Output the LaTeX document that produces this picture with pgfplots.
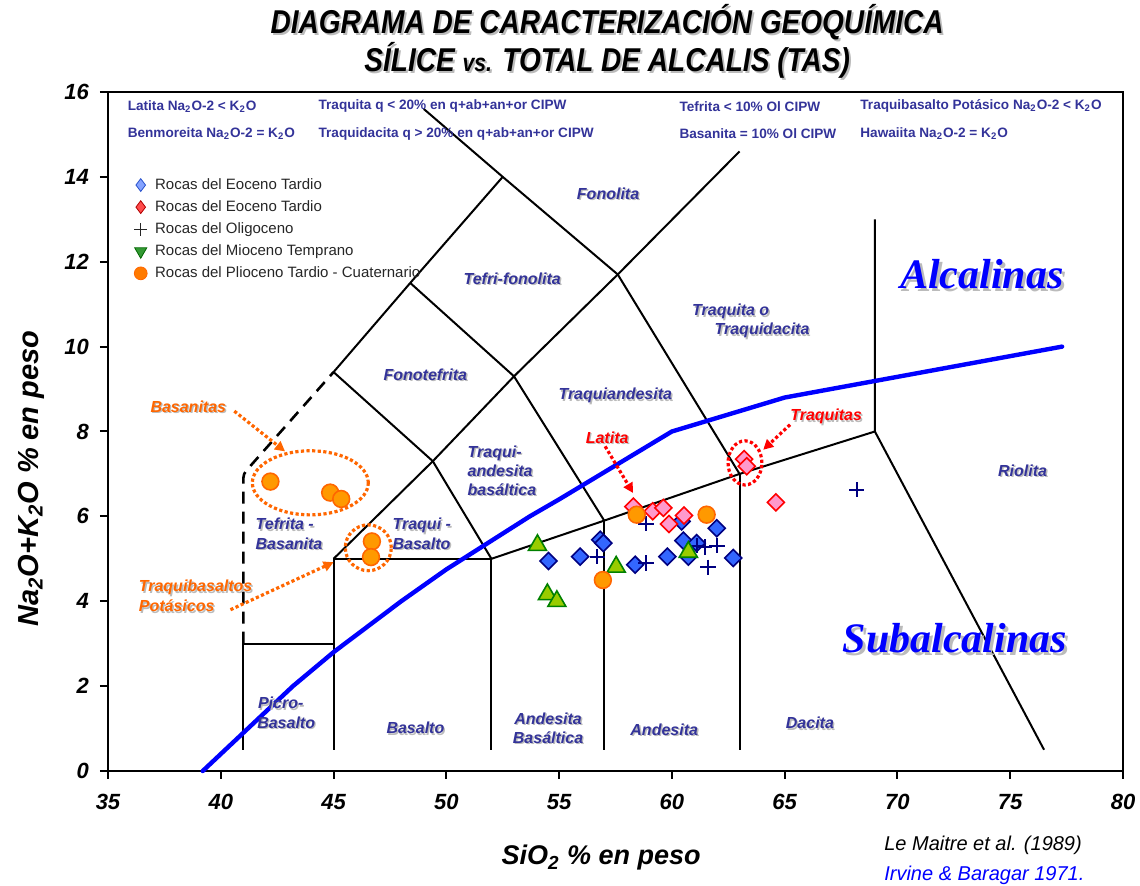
\documentclass[border=0pt]{standalone}
\usepackage{fontspec}
\setmainfont{Liberation Sans}
\newfontfamily\timesf{Liberation Serif}
\newfontfamily\titlef{Liberation Sans}[FakeStretch=0.85]
\usepackage{pgfplots}
\pgfplotsset{compat=1.18}
\usetikzlibrary{arrows.meta}
\definecolor{regblue}{HTML}{333399}
\definecolor{orng}{HTML}{FF6600}
\definecolor{orfill}{HTML}{FF9900}
\definecolor{pinkf}{HTML}{FF99CC}
\definecolor{bluef}{HTML}{3366FF}
\definecolor{navyc}{HTML}{000080}
\definecolor{greenf}{HTML}{99CC00}
\definecolor{greene}{HTML}{008000}
\definecolor{shad}{HTML}{BBBBBB}
\newcommand{\shtext}[4][0.7pt]{%
 \node[#2,text=shad,xshift=#1,yshift=-#1] at (axis cs:#3) {#4};
 \node[#2] at (axis cs:#3) {#4};}
\tikzset{
 reg/.style={font=\bfseries\itshape\fontsize{8}{9.6}\selectfont, text=regblue, inner sep=0pt},
 hdr/.style={font=\bfseries\fontsize{6.8}{8}\selectfont, text=regblue, inner sep=0pt, anchor=west},
 orl/.style={font=\bfseries\itshape\fontsize{8}{10}\selectfont, text=orng, inner sep=0pt},
 redl/.style={font=\bfseries\itshape\fontsize{8}{10}\selectfont, text=red, inner sep=0pt},
 dotl/.style={line width=1.6pt, dash pattern=on 1.6pt off 1.2pt},
}
\begin{document}
\begin{tikzpicture}
\path[use as bounding box] (-54pt,-57.5pt) rectangle (516pt,385.5pt);
\begin{axis}[at={(0,0)}, anchor=south west, scale only axis,
 width=507.5pt, height=339.5pt,
 xmin=35, xmax=80, ymin=0, ymax=16,
 xtick={35,40,...,80}, ytick={0,2,...,16},
 tick align=outside, tick pos=left, major tick length=4pt,
 axis line style={line width=1.2pt},
 every tick/.style={black, line width=1pt},
 ticklabel style={font=\bfseries\itshape\fontsize{11}{13}\selectfont},
 xticklabel style={yshift=-4pt},
 yticklabel style={xshift=-2pt},
 /pgf/number format/assume math mode=true,
 clip=false,
 legend image code/.code={\draw[mark repeat=2,mark phase=2,#1] plot coordinates {(0pt,0pt)(4.5pt,0pt)(9pt,0pt)};},
 legend style={at={(axis cs:36.15,14.05)}, anchor=north west, draw=none, fill=none,
   font=\fontsize{7.5}{9}\selectfont, text=black!85, inner sep=0pt, row sep=1.1pt,
   nodes={inner sep=1.5pt}, /tikz/every odd column/.append style={column sep=2.5pt}},
 legend cell align=left,
]
% TAS boundaries (Le Maitre et al. 1989)
\addplot[black, line width=1pt, forget plot] coordinates {(41,0.5) (41,3) (45,3)};
\addplot[black, line width=1pt, forget plot] coordinates {(45,0.5) (45,5) (52,5) (52,0.5)};
\addplot[black, line width=1pt, forget plot] coordinates {(52,5) (57,5.9) (63,7) (69,8) (69,13)};
\addplot[black, line width=1pt, forget plot] coordinates {(57,0.5) (57,5.9)};
\addplot[black, line width=1pt, forget plot] coordinates {(63,0.5) (63,7)};
\addplot[black, line width=1pt, forget plot] coordinates {(69,8) (76.5,0.5)};
\addplot[black, line width=1pt, forget plot] coordinates {(45,5) (49.4,7.3) (53,9.3) (57.6,11.7) (63,14.6)};
\addplot[black, line width=1pt, forget plot] coordinates {(45,9.4) (48.4,11.5) (52.5,14)};
\addplot[black, line width=1pt, forget plot] coordinates {(49,15.6) (52.5,14) (57.6,11.7) (63,7)};
\addplot[black, line width=1pt, forget plot] coordinates {(45,9.4) (49.4,7.3) (52,5)};
\addplot[black, line width=1pt, forget plot] coordinates {(53,9.3) (57,5.9)};
\addplot[black, line width=1pt, forget plot] coordinates {(48.4,11.5) (53,9.3)};
\addplot[black, line width=1.3pt, dash pattern=on 6pt off 4pt, rounded corners=2pt, forget plot] coordinates {(41,3) (41,7) (45,9.4)};
% Irvine & Baragar 1971
\addplot[blue, line width=2.2pt, line cap=round, forget plot] coordinates {(39.2,0) (40,0.4) (43.2,2) (45,2.8) (48,4) (50,4.75) (53.7,6) (55,6.4) (60,8) (65,8.8) (77.3,10)};

% data
\addplot[only marks, mark=square*, mark size=3pt, mark options={rotate=45, fill=bluef, draw=navyc, line width=0.8pt}, forget plot] coordinates {
(54.53,4.95) (55.93,5.05) (56.82,5.45) (56.96,5.37) (58.37,4.86) (59.8,5.05) (60.43,5.88) (60.51,5.43) (60.73,5.05) (61.1,5.37) (61.99,5.72) (62.72,5.02)};
\addplot[only marks, mark=square*, mark size=3pt, mark options={rotate=45, fill=pinkf, draw=red, line width=0.8pt}, forget plot] coordinates {
(58.29,6.23) (59.15,6.12) (59.62,6.20) (59.87,5.82) (60.54,6.02) (63.2,7.35) (63.32,7.18) (64.61,6.33)};
\addplot[only marks, mark=+, mark size=3.8pt, mark options={draw=navyc, line width=1pt}, forget plot] coordinates {
(56.7,5.05) (58.85,5.83) (58.85,4.90) (61.1,5.31) (61.45,5.28) (62.0,5.31) (61.6,4.80) (68.19,6.63)};
\addplot[only marks, mark=triangle*, mark size=5.2pt, mark options={fill=greenf, draw=greene, line width=0.8pt}, forget plot] coordinates {
(54.04,5.32) (57.53,4.81) (54.48,4.16) (54.9,4.0) (60.73,5.16)};
\addplot[only marks, mark=*, mark size=4.2pt, mark options={fill=orfill, draw=orng, line width=0.8pt}, forget plot] coordinates {
(58.44,6.04) (61.54,6.04) (56.94,4.50) (42.2,6.82) (44.85,6.56) (45.34,6.41) (46.70,5.41) (46.66,5.04)};

% legend
\addlegendimage{only marks, mark=diamond*, mark size=3.2pt, mark options={fill=bluef!60, draw=bluef!80!black, line width=0.4pt}}
\addlegendentry{Rocas del Eoceno Tardio}
\addlegendimage{only marks, mark=diamond*, mark size=3.2pt, mark options={fill=red!70, draw=red!70!black, line width=0.4pt}}
\addlegendentry{Rocas del Eoceno Tardio}
\addlegendimage{only marks, mark=+, mark size=3.2pt, mark options={draw=black!85, line width=0.7pt}}
\addlegendentry{Rocas del Oligoceno}
\addlegendimage{only marks, mark=triangle*, mark size=3.5pt, mark options={rotate=180, fill=greene!80, draw=greene!80!black, line width=0.4pt}}
\addlegendentry{Rocas del Mioceno Temprano}
\addlegendimage{only marks, mark=*, mark size=3.2pt, mark options={fill=orfill!80!red, draw=orng, line width=0.4pt}}
\addlegendentry{Rocas del Plioceno Tardio - Cuaternario}

% header notes
\node[hdr] at (axis cs:35.86,15.66) {Latita Na\textsubscript{2}O-2 < K\textsubscript{2}O};
\node[hdr] at (axis cs:35.86,15.02) {Benmoreita Na\textsubscript{2}O-2 = K\textsubscript{2}O};
\node[hdr] at (axis cs:44.32,15.66) {Traquita q < 20\% en q+ab+an+or CIPW};
\node[hdr] at (axis cs:44.32,15.02) {Traquidacita q > 20\% en q+ab+an+or CIPW};
\node[hdr] at (axis cs:60.32,15.66) {Tefrita < 10\% Ol CIPW};
\node[hdr] at (axis cs:60.32,15.02) {Basanita = 10\% Ol CIPW};
\node[hdr] at (axis cs:68.34,15.66) {Traquibasalto Potásico Na\textsubscript{2}O-2 < K\textsubscript{2}O};
\node[hdr] at (axis cs:68.34,15.02) {Hawaiita Na\textsubscript{2}O-2 = K\textsubscript{2}O};

% region labels
\shtext{reg}{57.17,13.61}{Fonolita}
\shtext{reg}{52.92,11.6}{Tefri-fonolita}
\shtext{reg,align=left}{63.5,10.6}{Traquita o\\\hspace*{1.4em}Traquidacita}
\shtext{reg}{49.07,9.34}{Fonotefrita}
\shtext{reg}{57.49,8.84}{Traquiandesita}
\shtext{reg,align=left,anchor=west}{50.93,7.08}{Traqui-\\andesita\\basáltica}
\shtext{reg,align=left,anchor=west}{41.53,5.59}{Tefrita -\\Basanita}
\shtext{reg,align=left,anchor=west}{47.6,5.59}{Traqui -\\Basalto}
\shtext{reg,align=left,anchor=west}{41.6,1.37}{\hspace*{0.05em}Picro-\\Basalto}
\shtext{reg}{48.63,1.01}{Basalto}
\shtext{reg,align=center}{54.51,1.01}{Andesita\\Basáltica}
\shtext{reg}{59.66,0.97}{Andesita}
\shtext{reg}{66.12,1.13}{Dacita}
\shtext{reg}{75.55,7.08}{Riolita}

\shtext[1.5pt]{font=\timesf\bfseries\itshape\fontsize{21}{24}\selectfont, text=blue, inner sep=0pt}{73.74,11.70}{Alcalinas}
\shtext[1.5pt]{font=\timesf\bfseries\itshape\fontsize{21}{24}\selectfont, text=blue, inner sep=0pt}{72.55,3.14}{Subalcalinas}

% annotations
\draw[orng, dotl] (axis cs:43.97,6.79) ellipse [x radius=2.57, y radius=0.755];
\draw[orng, dotl] (axis cs:46.54,5.26) ellipse [x radius=1.02, y radius=0.54];
\draw[red, dotl] (axis cs:63.24,7.26) ellipse [x radius=0.75, y radius=0.52];
\shtext{orl}{38.56,8.58}{Basanitas}
\draw[orng, dotl, -{Triangle[length=5pt,width=5pt]}] (axis cs:40.6,8.48) -- (axis cs:42.85,7.53);
\shtext{orl,align=left,anchor=west}{36.35,4.12}{Traquibasaltos\\Potásicos}
\draw[orng, dotl, -{Triangle[length=5pt,width=5pt]}] (axis cs:40.43,3.80) -- (axis cs:45.0,4.92);
\shtext{redl}{57.13,7.85}{Latita}
\draw[red, dotl, -{Triangle[length=5pt,width=5pt]}] (axis cs:57.04,7.65) -- (axis cs:58.28,6.55);
\shtext{redl}{66.84,8.35}{Traquitas}
\draw[red, dotl, -{Triangle[length=5pt,width=5pt]}] (axis cs:65.24,8.16) -- (axis cs:64.05,7.57);

% titles and axis labels
\shtext[1pt]{font=\titlef\bfseries\itshape\fontsize{16.5}{19}\selectfont, inner sep=0pt}{57.13,17.64}{DIAGRAMA DE CARACTERIZACIÓN GEOQUÍMICA}
\shtext[1pt]{font=\titlef\bfseries\itshape\fontsize{16.5}{19}\selectfont, inner sep=0pt}{57.13,16.74}{SÍLICE {\fontsize{12.5}{14}\selectfont vs.} TOTAL DE ALCALIS (TAS)}
\node[font=\bfseries\itshape\fontsize{13.5}{16}\selectfont, inner sep=0pt] at (axis cs:56.86,-2.05) {SiO\textsubscript{2} \% en peso};
\node[font=\bfseries\itshape\fontsize{14.5}{17}\selectfont, inner sep=0pt, rotate=90] at (axis cs:31.6,6.89) {Na\textsubscript{2}O+K\textsubscript{2}O \% en peso};
\node[font=\itshape\fontsize{10}{12}\selectfont, inner sep=0pt, anchor=west] at (axis cs:69.4,-1.75) {Le Maitre et al. (1989)};
\node[font=\itshape\fontsize{10}{12}\selectfont, text=blue, inner sep=0pt, anchor=west] at (axis cs:69.4,-2.45) {Irvine \& Baragar 1971.};
\end{axis}
\end{tikzpicture}
\end{document}
